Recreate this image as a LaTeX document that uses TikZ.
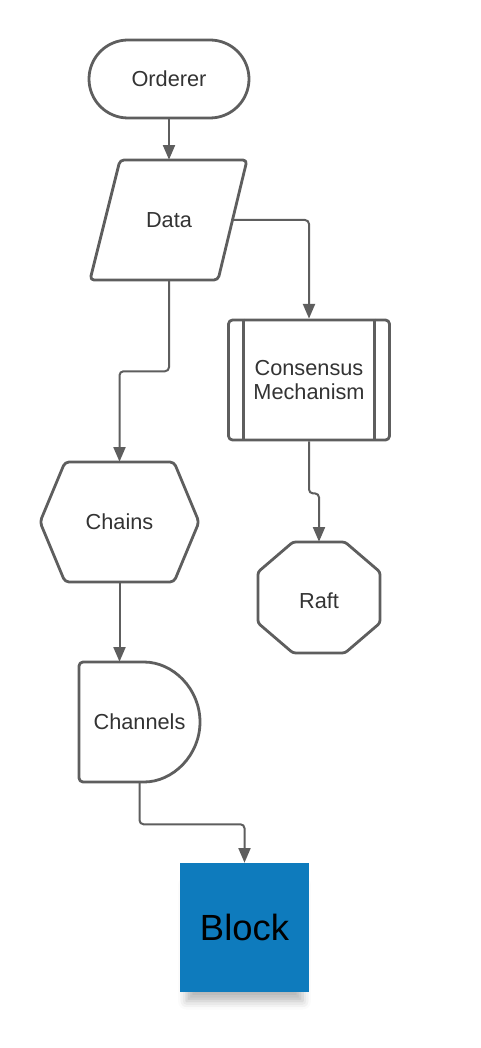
\documentclass[tikz,border=0pt]{standalone}
\usepackage{fontspec}
\setmainfont{Liberation Sans}
\usetikzlibrary{arrows.meta,shapes.misc,shadows.blur}
\definecolor{edge}{HTML}{5E5E5E}
\definecolor{txt}{HTML}{333333}
\definecolor{blockblue}{HTML}{0E7BBD}
\tikzset{
  shapeline/.style={draw=edge,line width=2.1pt,line join=round},
  label/.style={inner sep=0pt,text=txt,font=\fontsize{16.3}{19.5}\selectfont,align=center},
  conn/.style={draw=edge,line width=1.5pt,rounded corners=3pt,-{Triangle[length=11pt,width=9pt]}},
}
\begin{document}
\begin{tikzpicture}[x=0.75pt,y=-0.75pt]
\useasboundingbox (0,0) rectangle (480,1048);
% Orderer
\node[label,shapeline,rounded rectangle,minimum width=120pt,minimum height=58.5pt] (ord) at (169,79) {Orderer};
% Data
\draw[shapeline,rounded corners=3pt] (120,160) -- (247,160) -- (218,280) -- (90,280) -- cycle;
\node[label,minimum width=96pt,minimum height=90pt] (data) at (169,220) {Data};
\coordinate (dataR) at (232.5,220);
% Consensus Mechanism
\node[label,shapeline,rectangle,rounded corners=3pt,minimum width=120.75pt,minimum height=90pt] (cons) at (309,380) {Consensus\\[-1pt]Mechanism};
\draw[shapeline] ([xshift=12pt]cons.north west) -- ([xshift=12pt]cons.south west);
\draw[shapeline] ([xshift=-12.5pt]cons.north east) -- ([xshift=-12.5pt]cons.south east);
% Raft
\draw[shapeline,rounded corners=2pt] (293,542) -- (345,542) -- (380,572) -- (380,623) -- (345,653) -- (293,653) -- (258,623) -- (258,572) -- cycle;
\node[label,minimum width=91.5pt,minimum height=88.5pt] (raft) at (319,601) {Raft};
% Chains
\draw[shapeline,rounded corners=3pt] (65,462) -- (174,462) -- (199,522) -- (174,582) -- (65,582) -- (40,522) -- cycle;
\node[label,minimum width=119pt,minimum height=90pt] (chains) at (119.5,522) {Chains};
% Channels
\draw[shapeline,rounded corners=3pt] (140,662) arc[start angle=-90,end angle=90,radius=60] -- (79,782) -- (79,662) -- cycle;
\node[label,minimum width=90.75pt,minimum height=90pt] (chan) at (139.5,722) {Channels};
% Block
\node[rectangle,fill=blockblue,minimum width=96.75pt,minimum height=96.75pt,inner sep=0pt,text=black,font=\fontsize{27.3}{32}\selectfont,
  blur shadow={shadow xshift=0pt,shadow yshift=-13pt,shadow scale=0.9,shadow blur radius=7pt,shadow opacity=28}] (block) at (244.5,927.5) {Block};
% connectors
\draw[conn] (ord.south) -- (data.north);
\draw[conn] (dataR) -| (cons.north);
\draw[conn] (cons.south) -- ++(0,52) -| (raft.north);
\draw[conn] (data.south) -- ++(0,91) -| (chains.north);
\draw[conn] (chains.south) -- (chains.south |- chan.north);
\draw[conn] (chan.south) -- ++(0,42) -| (block.north);
\end{tikzpicture}
\end{document}
